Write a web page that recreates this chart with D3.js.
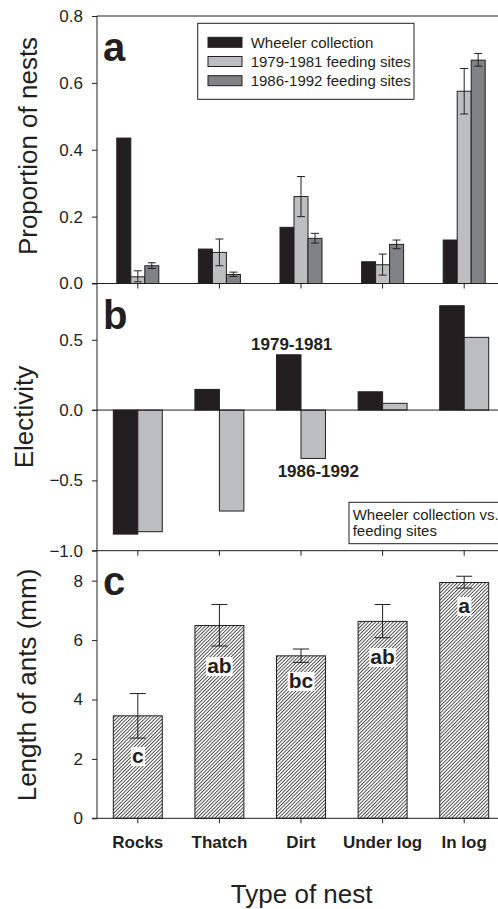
<!DOCTYPE html>
<html><head><meta charset="utf-8">
<script src="https://cdn.jsdelivr.net/npm/d3@7"></script>
<style>body{margin:0;background:#fff}svg{display:block;font-family:"Liberation Sans",Arial,sans-serif}</style>
</head><body><svg id="c" width="498" height="909"></svg>
<script>
const categories = ["Rocks","Thatch","Dirt","Under log","In log"];
// Panel a
const seriesA = ["Wheeler collection","1979-1981 feeding sites","1986-1992 feeding sites"];
const wheeler = [0.435,0.103,0.168,0.065,0.130];
const feed7981 = [0.020,0.093,0.260,0.056,0.575];
const feed7981Lo = [0.005,0.053,0.200,0.025,0.507];
const feed7981Hi = [0.038,0.133,0.320,0.088,0.643];
const feed8692 = [0.053,0.027,0.135,0.117,0.668];
const feed8692Lo = [0.045,0.021,0.121,0.104,0.650];
const feed8692Hi = [0.062,0.034,0.150,0.130,0.688];
const ticksA = [0,0.2,0.4,0.6,0.8];
// Panel b
const elect7981 = [-0.882,0.147,0.393,0.130,0.742];
const elect8692 = [-0.865,-0.718,-0.344,0.048,0.517];
const ticksB = [-1,-0.5,0,0.5];
// Panel c
const antLength = [3.45,6.49,5.47,6.63,7.94];
const antLo = [2.70,5.80,5.25,6.08,7.75];
const antHi = [4.20,7.20,5.70,7.20,8.15];
const groupLetters = ["c","ab","bc","ab","a"];
const ticksC = [0,2,4,6,8];

const INK = "#231f20", LIGHT = "#bcbec0", DARK = "#808285";
const svg = d3.select("#c");
const defs = svg.append("defs");
const pat = defs.append("pattern").attr("id","hatch").attr("patternUnits","userSpaceOnUse")
  .attr("width",2.5).attr("height",2.5).attr("patternTransform","rotate(45)");
pat.append("rect").attr("width",2.5).attr("height",2.5).attr("fill","#fff");
pat.append("line").attr("x1",0.5).attr("y1",0).attr("x2",0.5).attr("y2",2.5).attr("stroke","#333").attr("stroke-width",0.85);

const x = d3.scaleBand().domain(categories).range([97,505]).paddingInner(0.4).paddingOuter(0.2);
const yA = d3.scaleLinear().domain([0,0.8]).range([283.5,16]);
const yB = d3.scaleLinear().domain([-1,0.9]).range([550.7,283.5]);
const yC = d3.scaleLinear().domain([0,9]).range([818.3,551]);

function yAxis(g, scale, ticks, fmt){
  g.call(d3.axisLeft(scale).tickValues(ticks).tickSize(5).tickPadding(9).tickFormat(fmt));
  g.select(".domain").remove();
  g.selectAll("line").attr("stroke",INK);
  g.selectAll("text").attr("font-size",17).attr("fill",INK).attr("font-family","Liberation Sans, Arial, sans-serif");
}
function xAxis(g, ySc, val, labels){
  g.attr("transform",`translate(0,${ySc(val)})`)
   .call(d3.axisBottom(x).tickSize(5).tickSizeOuter(0).tickFormat(labels ? d=>d : ""));
  g.select(".domain").remove();
  g.selectAll("line").attr("stroke",INK);
}

// vertical axis line spanning all panels
svg.append("line").attr("x1",97).attr("x2",97).attr("y1",16).attr("y2",818.3).attr("stroke",INK);
// top frame
svg.append("line").attr("x1",97).attr("x2",505).attr("y1",yA(0.8)).attr("y2",yA(0.8)).attr("stroke",INK);

// ---------- Panel a ----------
const gw = 42;
const xs = d3.scaleBand().domain(seriesA).range([0,gw]);
const fills = [INK, LIGHT, DARK];
const valsA = [wheeler, feed7981, feed8692];
const ga = svg.append("g");
seriesA.forEach((s,si)=>{
  ga.selectAll(null).data(categories).enter().append("rect")
    .attr("x",(c)=>x(c)+x.bandwidth()/2-gw/2+xs(s))
    .attr("width",xs.bandwidth())
    .attr("y",(c,i)=>yA(valsA[si][i]))
    .attr("height",(c,i)=>yA(0)-yA(valsA[si][i]))
    .attr("fill",fills[si]).attr("stroke",INK).attr("stroke-width",1);
});
function errBars(g, ySc, lo, hi, cxFn, cap){
  categories.forEach((c,i)=>{
    const cx = cxFn(c);
    g.append("line").attr("x1",cx).attr("x2",cx).attr("y1",ySc(lo[i])).attr("y2",ySc(hi[i])).attr("stroke",INK);
    [lo[i],hi[i]].forEach(v=>g.append("line").attr("x1",cx-cap/2).attr("x2",cx+cap/2).attr("y1",ySc(v)).attr("y2",ySc(v)).attr("stroke",INK));
  });
}
errBars(ga, yA, feed7981Lo, feed7981Hi, c=>x(c)+x.bandwidth()/2-gw/2+xs(seriesA[1])+xs.bandwidth()/2, 8);
errBars(ga, yA, feed8692Lo, feed8692Hi, c=>x(c)+x.bandwidth()/2-gw/2+xs(seriesA[2])+xs.bandwidth()/2, 8);
svg.append("line").attr("x1",92).attr("x2",505).attr("y1",yA(0)).attr("y2",yA(0)).attr("stroke",INK);
yAxis(svg.append("g").attr("transform","translate(97,0)"), yA, ticksA, d3.format(".1f"));
xAxis(svg.append("g"), yA, 0, false);

// legend
const lg = svg.append("g");
lg.append("rect").attr("x",197.7).attr("y",23.3).attr("width",216.3).attr("height",76).attr("fill","#fff").attr("stroke",INK);
seriesA.forEach((s,i)=>{
  const cy = 42.3 + i*19.2;
  lg.append("rect").attr("x",208).attr("y",cy-5).attr("width",34).attr("height",10).attr("fill",fills[i]).attr("stroke",INK);
  lg.append("text").attr("x",250.7).attr("y",cy+5.5).attr("font-size",15).attr("fill",INK).text(s);
});
svg.append("text").attr("x",103).attr("y",60.5).attr("font-size",40).attr("font-weight","bold").attr("fill",INK).text("a");

// ---------- Panel b ----------
const gb = svg.append("g");
const xb = d3.scaleBand().domain(["1979-1981","1986-1992"]).range([0,x.bandwidth()]);
const valsB = [elect7981, elect8692];
["1979-1981","1986-1992"].forEach((s,si)=>{
  gb.selectAll(null).data(categories).enter().append("rect")
    .attr("x",c=>x(c)+xb(s)).attr("width",xb.bandwidth())
    .attr("y",(c,i)=>yB(Math.max(0,valsB[si][i])))
    .attr("height",(c,i)=>Math.abs(yB(valsB[si][i])-yB(0)))
    .attr("fill",si===0?INK:LIGHT).attr("stroke",INK).attr("stroke-width",1);
});
svg.append("line").attr("x1",92).attr("x2",505).attr("y1",yB(0)).attr("y2",yB(0)).attr("stroke",INK);
svg.append("line").attr("x1",92).attr("x2",505).attr("y1",yB(-1)).attr("y2",yB(-1)).attr("stroke",INK);
yAxis(svg.append("g").attr("transform","translate(97,0)"), yB, ticksB, d3.format(".1f"));
xAxis(svg.append("g"), yB, -1, false);
svg.append("text").attr("x",291.7).attr("y",350).attr("text-anchor","middle").attr("font-size",17).attr("font-weight","bold").attr("fill",INK).text("1979-1981");
svg.append("text").attr("x",318.3).attr("y",477).attr("text-anchor","middle").attr("font-size",17).attr("font-weight","bold").attr("fill",INK).text("1986-1992");
svg.append("rect").attr("x",349).attr("y",502.3).attr("width",160).attr("height",41.4).attr("fill","#fff").attr("stroke",INK);
svg.append("text").attr("x",352.7).attr("y",519.5).attr("font-size",15).attr("fill",INK).text("Wheeler collection vs.");
svg.append("text").attr("x",352.7).attr("y",536).attr("font-size",15).attr("fill",INK).text("feeding sites");
svg.append("text").attr("x",103).attr("y",329).attr("font-size",40).attr("font-weight","bold").attr("fill",INK).text("b");

// ---------- Panel c ----------
const gc = svg.append("g");
gc.selectAll(null).data(categories).enter().append("rect")
  .attr("x",c=>x(c)).attr("width",x.bandwidth())
  .attr("y",(c,i)=>yC(antLength[i])).attr("height",(c,i)=>yC(0)-yC(antLength[i]))
  .attr("fill","url(#hatch)").attr("stroke",INK).attr("stroke-width",1);
errBars(gc, yC, antLo, antHi, c=>x(c)+x.bandwidth()/2, 16);
const letterY = [763,673,688,664,613];
categories.forEach((c,i)=>{
  const t = gc.append("text").attr("x",x(c)+x.bandwidth()/2).attr("y",letterY[i]).attr("text-anchor","middle")
    .attr("font-size",21).attr("font-weight","bold").attr("fill",INK).text(groupLetters[i]);
  const bb = t.node().getBBox();
  gc.insert("rect","text").attr("x",bb.x-1).attr("y",bb.y+3).attr("width",bb.width+2).attr("height",bb.height-4).attr("fill","#fff");
});
svg.append("line").attr("x1",92).attr("x2",505).attr("y1",yC(0)).attr("y2",yC(0)).attr("stroke",INK);
yAxis(svg.append("g").attr("transform","translate(97,0)"), yC, ticksC, d3.format("d"));
const xa = svg.append("g"); xAxis(xa, yC, 0, true);
xa.selectAll("text").attr("font-size",17).attr("font-weight","bold").attr("fill",INK).attr("dy",0).attr("y",29.5)
  .attr("font-family","Liberation Sans, Arial, sans-serif");
svg.append("text").attr("x",103).attr("y",595).attr("font-size",40).attr("font-weight","bold").attr("fill",INK).text("c");

// axis titles
function yTitle(txt, cx, cy){
  svg.append("text").attr("transform",`translate(${cx},${cy}) rotate(-90)`).attr("text-anchor","middle")
    .attr("font-size",26).attr("fill",INK).text(txt);
}
yTitle("Proportion of nests", 37, 146);
yTitle("Electivity", 33, 417);
yTitle("Length of ants (mm)", 36, 685);
svg.append("text").attr("x",301.7).attr("y",903).attr("text-anchor","middle").attr("font-size",26).attr("fill",INK).text("Type of nest");
</script></body></html>
